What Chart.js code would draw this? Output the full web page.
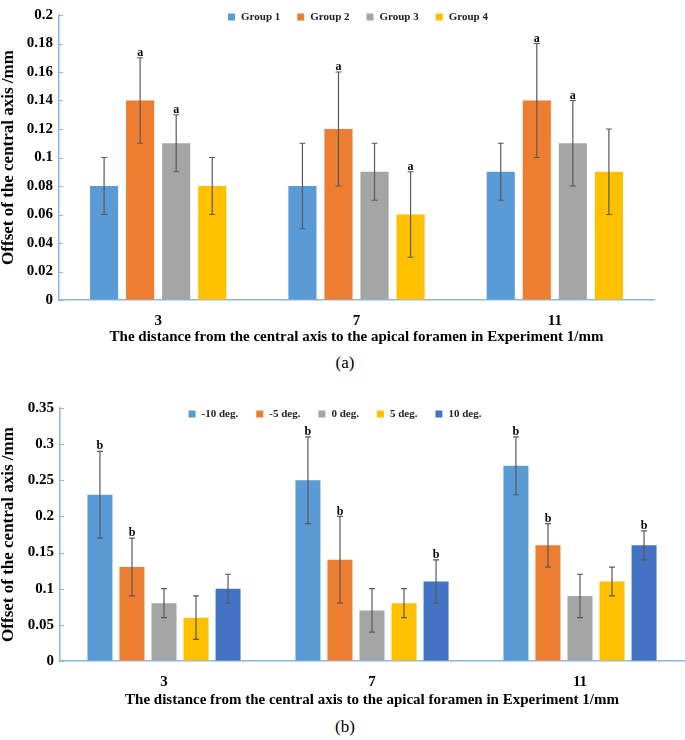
<!DOCTYPE html>
<html>
<head>
<meta charset="utf-8">
<script src="https://cdn.jsdelivr.net/npm/chart.js@4/dist/chart.umd.min.js"></script>
<style>
  body { margin: 0; background: #fff; width: 685px; height: 740px; position: relative; overflow: hidden; }
  .box { position: absolute; left: 0; width: 685px; }
  .cap { position: absolute; left: 0; width: 690px; text-align: center; font: 17px "Liberation Serif", serif; color: #000; }
</style>
</head>
<body>
<div class="box" style="top:0;height:350px"><canvas id="chartA"></canvas></div>
<div class="cap" style="top:353px">(a)</div>
<div class="box" style="top:380px;height:335px"><canvas id="chartB"></canvas></div>
<div class="cap" style="top:717px">(b)</div>
<script>
// ---- chart (a) data ----
const distances = ['3', '7', '11'];
const groupNames = ['Group 1', 'Group 2', 'Group 3', 'Group 4'];
const group1 = [0.08, 0.08, 0.09];
const group2 = [0.14, 0.12, 0.14];
const group3 = [0.11, 0.09, 0.11];
const group4 = [0.08, 0.06, 0.09];
const group1Sd = [0.02, 0.03, 0.02];
const group2Sd = [0.03, 0.04, 0.04];
const group3Sd = [0.02, 0.02, 0.03];
const group4Sd = [0.02, 0.03, 0.03];
const group1Sig = ['', '', ''];
const group2Sig = ['a', 'a', 'a'];
const group3Sig = ['a', '', 'a'];
const group4Sig = ['', 'a', ''];
const yTicksA = [0, 0.02, 0.04, 0.06, 0.08, 0.1, 0.12, 0.14, 0.16, 0.18, 0.2];

// ---- chart (b) data ----
const angleNames = ['-10 deg.', '-5 deg.', '0 deg.', '5 deg.', '10 deg.'];
const angleM10 = [0.23, 0.25, 0.27];
const angleM5 = [0.13, 0.14, 0.16];
const angle0 = [0.08, 0.07, 0.09];
const angle5 = [0.06, 0.08, 0.11];
const angle10 = [0.10, 0.11, 0.16];
const angleM10Sd = [0.06, 0.06, 0.04];
const angleM5Sd = [0.04, 0.06, 0.03];
const angle0Sd = [0.02, 0.03, 0.03];
const angle5Sd = [0.03, 0.02, 0.02];
const angle10Sd = [0.02, 0.03, 0.02];
const angleM10Sig = ['b', 'b', 'b'];
const angleM5Sig = ['b', 'b', 'b'];
const angle0Sig = ['', '', ''];
const angle5Sig = ['', '', ''];
const angle10Sig = ['', 'b', 'b'];
const yTicksB = [0, 0.05, 0.1, 0.15, 0.2, 0.25, 0.3, 0.35];

const xTitle = 'The distance from the central axis to the apical foramen in Experiment 1/mm';
const yTitle = 'Offset of the central axis /mm';

const colors = ['#5B9BD5', '#ED7D31', '#A5A5A5', '#FFC000', '#4472C4'];
const axisColor = '#8DB8E4';
const serif = '"Liberation Serif", "Times New Roman", serif';

// error bars, significance letters and inward y ticks
const errorBarPlugin = {
  id: 'errorBars',
  afterDatasetsDraw(chart) {
    const ctx = chart.ctx;
    const y = chart.scales.y;
    const area = chart.chartArea;
    ctx.save();
    chart.data.datasets.forEach((ds, i) => {
      const meta = chart.getDatasetMeta(i);
      meta.data.forEach((bar, j) => {
        const v = ds.data[j], sd = ds.sd[j];
        const top = y.getPixelForValue(v + sd);
        const bot = y.getPixelForValue(v - sd);
        ctx.strokeStyle = '#595959';
        ctx.lineWidth = 1.2;
        ctx.beginPath();
        ctx.moveTo(bar.x, top); ctx.lineTo(bar.x, bot);
        ctx.moveTo(bar.x - 3, top); ctx.lineTo(bar.x + 3, top);
        ctx.moveTo(bar.x - 3, bot); ctx.lineTo(bar.x + 3, bot);
        ctx.stroke();
        if (ds.sig[j]) {
          ctx.fillStyle = '#000';
          ctx.font = 'bold 12px ' + serif;
          ctx.textAlign = 'center';
          ctx.textBaseline = 'bottom';
          ctx.fillText(ds.sig[j], bar.x, top + 1);
        }
      });
    });
    ctx.strokeStyle = axisColor;
    ctx.lineWidth = 1;
    y.ticks.forEach(t => {
      const py = Math.round(y.getPixelForValue(t.value)) + 0.5;
      ctx.beginPath();
      ctx.moveTo(area.left, py); ctx.lineTo(area.left + 4, py);
      ctx.stroke();
    });
    ctx.restore();
  }
};

// one-row legend inside the plot, centred on opts.cx
const rowLegend = {
  id: 'rowLegend',
  afterDraw(chart, args, opts) {
    const ctx = chart.ctx;
    const sets = chart.data.datasets;
    ctx.save();
    ctx.font = 'bold 11px ' + serif;
    const widths = sets.map(ds => 7 + 6 + ctx.measureText(ds.label).width);
    const total = widths.reduce((a, b) => a + b, 0) + opts.gap * (sets.length - 1);
    let x = opts.cx - total / 2;
    ctx.textBaseline = 'middle';
    ctx.textAlign = 'left';
    sets.forEach((ds, i) => {
      ctx.fillStyle = ds.backgroundColor;
      ctx.fillRect(x, opts.cy - 3.5, 7, 7);
      ctx.fillStyle = '#222';
      ctx.fillText(ds.label, x + 13, opts.cy + 0.5);
      x += widths[i] + opts.gap;
    });
    ctx.restore();
  }
};

function makeChart(id, labels, names, series, sds, sigs, ticks, o) {
  const datasets = names.map((n, i) => ({
    label: n,
    data: series[i],
    sd: sds[i],
    sig: sigs[i],
    backgroundColor: colors[i],
    borderWidth: 0,
    categoryPercentage: o.cp,
    barPercentage: 0.78
  }));
  return new Chart(document.getElementById(id), {
    type: 'bar',
    data: { labels: labels, datasets: datasets },
    plugins: [errorBarPlugin, rowLegend],
    options: {
      responsive: true,
      maintainAspectRatio: false,
      animation: false,
      layout: { padding: { top: o.top, right: o.right, left: 0, bottom: 0 } },
      plugins: {
        legend: { display: false },
        rowLegend: { cx: o.legendX, cy: o.legendY, gap: o.legendGap },
        tooltip: { enabled: false }
      },
      scales: {
        x: {
          grid: { display: false },
          border: { color: axisColor, width: 1.5 },
          ticks: { color: '#000', padding: 4, font: { family: serif, size: 15, weight: 'bold' } },
          title: {
            display: true, text: xTitle, color: '#000',
            padding: { top: 0, bottom: o.xTitlePad },
            font: { family: serif, size: 15, weight: 'bold' }
          },
          afterFit(scale) { scale.height = o.xHeight; }
        },
        y: {
          min: ticks[0], max: ticks[ticks.length - 1],
          afterBuildTicks(scale) { scale.ticks = ticks.map(v => ({ value: v })); },
          grid: { drawOnChartArea: false, drawTicks: false },
          border: { color: axisColor, width: 1.5 },
          ticks: {
            color: '#000', padding: 6,
            font: { family: serif, size: 15, weight: 'bold' },
            callback: v => String(+v.toFixed(2))
          },
          title: {
            display: true, text: yTitle, color: '#000',
            padding: { top: -2, bottom: 0 },
            font: { family: serif, size: 17, weight: 'bold' }
          },
          afterFit(scale) { scale.width = o.yWidth; }
        }
      }
    }
  });
}

makeChart('chartA', distances, groupNames,
  [group1, group2, group3, group4],
  [group1Sd, group2Sd, group3Sd, group4Sd],
  [group1Sig, group2Sig, group3Sig, group4Sig],
  yTicksA,
  { cp: 0.727, top: 7, right: 31, yWidth: 59, xHeight: 50, xTitlePad: 4, legendX: 358, legendY: 17, legendGap: 17 });

makeChart('chartB', distances, angleNames,
  [angleM10, angleM5, angle0, angle5, angle10],
  [angleM10Sd, angleM5Sd, angle0Sd, angle5Sd, angle10Sd],
  [angleM10Sig, angleM5Sig, angle0Sig, angle5Sig, angle10Sig],
  yTicksB,
  { cp: 0.77, top: 28, right: 1, yWidth: 60, xHeight: 54, xTitlePad: 6, legendX: 335, legendY: 34, legendGap: 18 });
</script>
</body>
</html>
